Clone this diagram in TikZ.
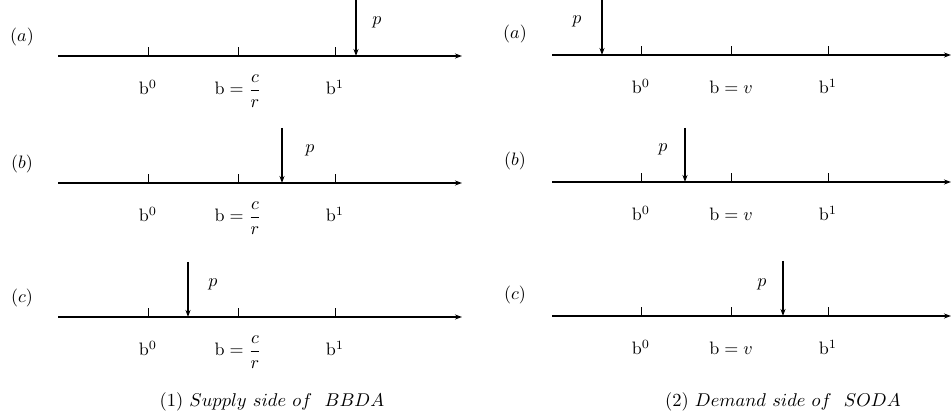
\documentclass[tikz,border=0pt]{standalone}
\usepackage{amsmath}
\usepackage{graphicx}
\usetikzlibrary{arrows.meta}
\newcommand{\bigtxt}[1]{\scalebox{1.8}{#1}}
\newcommand{\captxt}[1]{\scalebox{1.85}{#1}}
\begin{document}
\begin{tikzpicture}[x=1pt,y=-1pt,
  axisline/.style={line width=1.2pt,-{Stealth[length=7pt,width=5pt]}},
  tickline/.style={line width=1pt},
  parrow/.style={line width=1.2pt,-{Stealth[length=7pt,width=5pt]}},
  lbl/.style={inner sep=0pt,anchor=base},
  plbl/.style={inner sep=0pt}]
\useasboundingbox (0,0) rectangle (951,419);

% ---------- Left panel: Supply side of BBDA ----------
\foreach \r/\ya/\px/\pt/\plx/\ply in {a/56/356/0/377/22, b/183/282/128/310/150, c/317/188/262/213/284}{
  \coordinate (L\r s) at (58,\ya);
  \coordinate (L\r e) at (462,\ya);
  \draw[axisline] (L\r s) -- (L\r e);
  \foreach \t/\tx in {0/148,1/238,2/335}{
    \coordinate (L\r t\t) at (\tx,\ya);
    \coordinate (L\r u\t) at (\tx,\ya-9);
    \draw[tickline] (L\r t\t) -- (L\r u\t);
  }
  \coordinate (L\r pt) at (\px,\pt);
  \coordinate (L\r pb) at (\px,\ya);
  \draw[parrow] (L\r pt) -- (L\r pb);
  \node[plbl] (L\r p) at (\plx,\ply) {\bigtxt{$p$}};
  \node[plbl] (L\r lab) at (22,\ya-19) {\bigtxt{$(\r)$}};
  \node[lbl] (L\r b0) at (148,\ya+39) {\bigtxt{$\mathrm{b}^0$}};
  \node[lbl] (L\r b) at (238,\ya+39) {\bigtxt{$\mathrm{b}=\dfrac{c}{r}$}};
  \node[lbl] (L\r b1) at (335,\ya+39) {\bigtxt{$\mathrm{b}^1$}};
}

% ---------- Right panel: Demand side of SODA ----------
\foreach \r/\ya/\px/\pt/\plx/\ply in {a/55/602/0/577/21, b/182/685/128/663/149, c/316/783/261/762/284}{
  \coordinate (R\r s) at (552,\ya);
  \coordinate (R\r e) at (951,\ya);
  \draw[axisline] (R\r s) -- (R\r e);
  \foreach \t/\tx in {0/641,1/731,2/828}{
    \coordinate (R\r t\t) at (\tx,\ya);
    \coordinate (R\r u\t) at (\tx,\ya-9);
    \draw[tickline] (R\r t\t) -- (R\r u\t);
  }
  \coordinate (R\r pt) at (\px,\pt);
  \coordinate (R\r pb) at (\px,\ya);
  \draw[parrow] (R\r pt) -- (R\r pb);
  \node[plbl] (R\r p) at (\plx,\ply) {\bigtxt{$p$}};
  \node[plbl] (R\r lab) at (515,\ya-21) {\bigtxt{$(\r)$}};
  \node[lbl] (R\r b0) at (641,\ya+39) {\bigtxt{$\mathrm{b}^0$}};
  \node[lbl] (R\r b) at (731,\ya+39) {\bigtxt{$\mathrm{b}=v$}};
  \node[lbl] (R\r b1) at (828,\ya+39) {\bigtxt{$\mathrm{b}^1$}};
}

% ---------- Captions ----------
\node[lbl] (cap1) at (272,407) {\captxt{$(1)\ Supply\ side\ of\ \ BBDA$}};
\node[lbl] (cap2) at (783,407) {\captxt{$(2)\ Demand\ side\ of\ \ SODA$}};
\end{tikzpicture}
\end{document}
